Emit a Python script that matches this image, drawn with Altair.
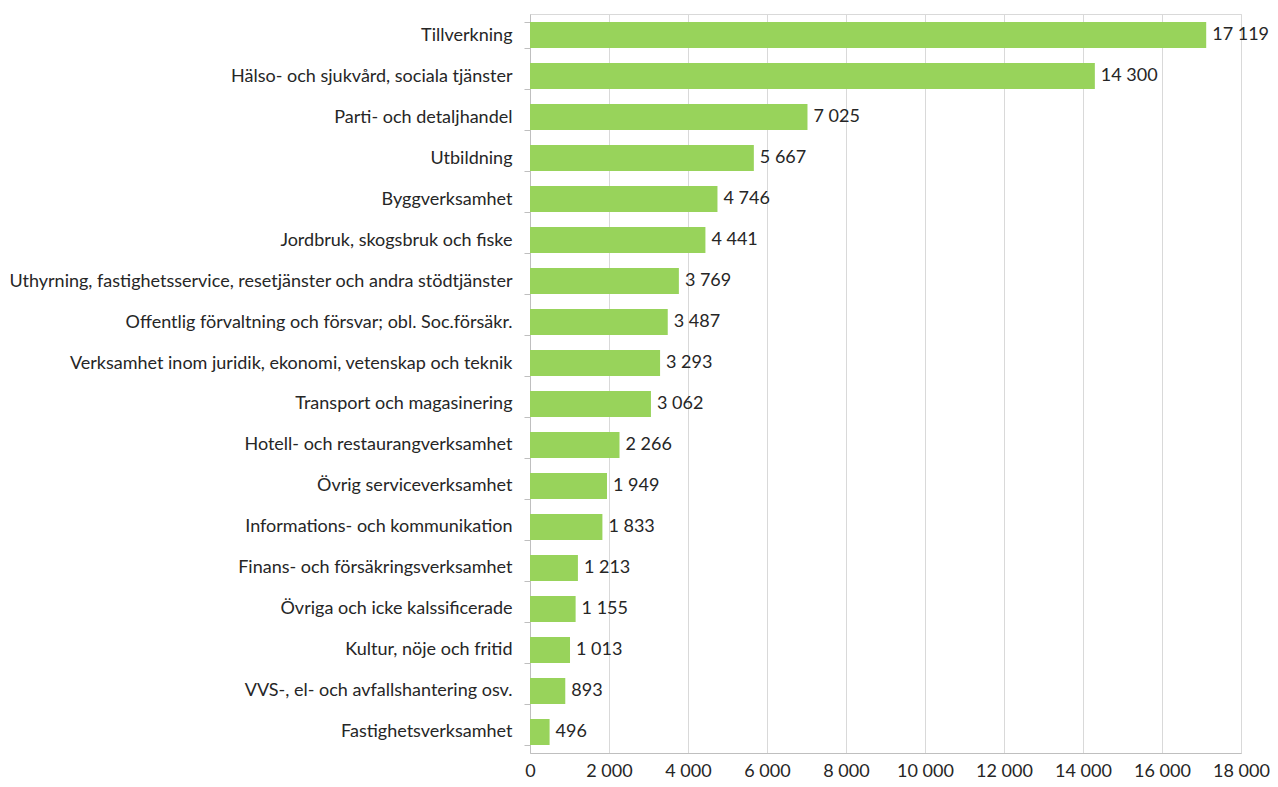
import altair as alt
import pandas as pd

categories = [
    "Tillverkning",
    "Hälso- och sjukvård, sociala tjänster",
    "Parti- och detaljhandel",
    "Utbildning",
    "Byggverksamhet",
    "Jordbruk, skogsbruk och fiske",
    "Uthyrning, fastighetsservice, resetjänster och andra stödtjänster",
    "Offentlig förvaltning och försvar; obl. Soc.försäkr.",
    "Verksamhet inom juridik, ekonomi, vetenskap och teknik",
    "Transport och magasinering",
    "Hotell- och restaurangverksamhet",
    "Övrig serviceverksamhet",
    "Informations- och kommunikation",
    "Finans- och försäkringsverksamhet",
    "Övriga och icke kalssificerade",
    "Kultur, nöje och fritid",
    "VVS-, el- och avfallshantering osv.",
    "Fastighetsverksamhet",
]
values = [17119, 14300, 7025, 5667, 4746, 4441, 3769, 3487, 3293, 3062,
          2266, 1949, 1833, 1213, 1155, 1013, 893, 496]
x_ticks = list(range(0, 18001, 2000))

df = pd.DataFrame({"kategori": categories, "antal": values})

FONT = "Lato"
FS = 18
TXT = "#262626"

y_enc = alt.Y(
    "kategori:N",
    sort=categories,
    title=None,
    scale=alt.Scale(paddingInner=0.365, paddingOuter=0.195),
    axis=alt.Axis(
        tickBand="extent",
        tickSize=6,
        tickColor="#bfbfbf",
        domainColor="#bfbfbf",
        labelPadding=12,
        labelFontSize=FS,
        labelFont=FONT,
        labelColor=TXT,
        labelLimit=700,
    ),
)

x_enc = alt.X(
    "antal:Q",
    title=None,
    scale=alt.Scale(domain=[0, 18000], nice=False),
    axis=alt.Axis(
        values=x_ticks,
        ticks=False,
        grid=True,
        gridColor="#d9d9d9",
        domainColor="#bfbfbf",
        labelFontSize=FS,
        labelFont=FONT,
        labelColor=TXT,
        labelPadding=9,
        labelFlush=False,
        labelExpr="replace(format(datum.value, ','), ',', ' ')",
        labelOverlap=False,
    ),
)

bars = alt.Chart(df).mark_bar(color="#98D35B").encode(y=y_enc, x=x_enc)

labels = (
    alt.Chart(df)
    .transform_calculate(lbl="replace(format(datum.antal, ','), ',', ' ')")
    .mark_text(align="left", baseline="middle", dx=6, fontSize=FS, font=FONT, color=TXT)
    .encode(y=alt.Y("kategori:N", sort=categories), x="antal:Q", text="lbl:N")
)

chart = (
    alt.layer(bars, labels)
    .properties(
        width=711,
        height=739,
        autosize=alt.AutoSizeParams(type="none"),
        padding={"left": 522, "top": 6, "right": 29, "bottom": 26},
    )
    .configure_view(stroke="#d9d9d9")
)

chart.save("out.html", embed_options={"renderer": "svg", "actions": False})
